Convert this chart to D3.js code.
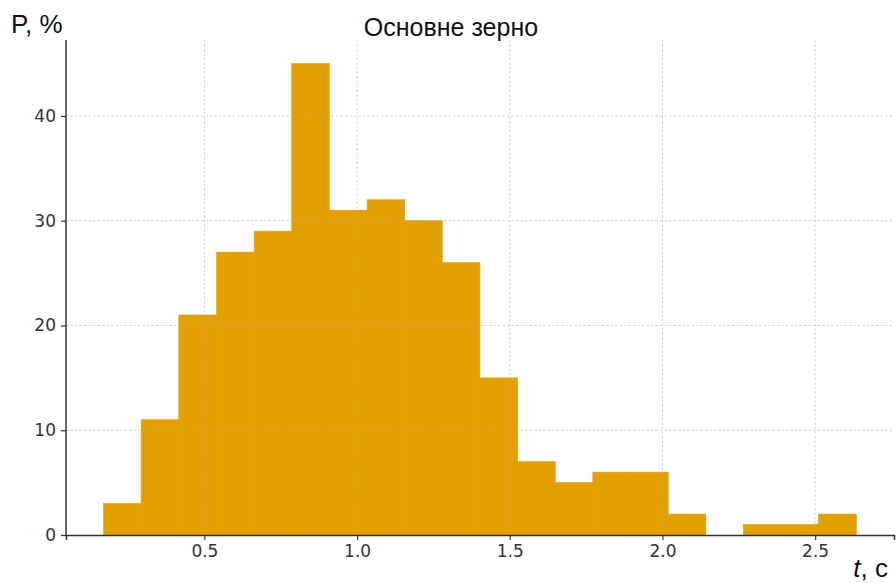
<!DOCTYPE html>
<html><head><meta charset="utf-8">
<script src="https://cdn.jsdelivr.net/npm/d3@7"></script>
<style>body{margin:0;background:#fff}svg{display:block}</style>
</head><body>
<script>
const binEdges = [0.170, 0.293, 0.416, 0.540, 0.663, 0.786, 0.909, 1.033, 1.156, 1.279, 1.402, 1.526, 1.649, 1.772, 1.895, 2.019, 2.142, 2.265, 2.388, 2.511, 2.635];
const counts = [3, 11, 21, 27, 29, 45, 31, 32, 30, 26, 15, 7, 5, 6, 6, 2, 0, 1, 1, 2];
const xTicks = [0.5, 1.0, 1.5, 2.0, 2.5];
const yTicks = [0, 10, 20, 30, 40];
const title = "Основне зерно";

const W = 896, H = 583;
const m = {left: 66, right: 2, top: 40, bottom: 48};
const svg = d3.select("body").append("svg").attr("width", W).attr("height", H);

const span = binEdges[binEdges.length-1] - binEdges[0];
const x = d3.scaleLinear()
  .domain([binEdges[0] - 0.05*span, binEdges[binEdges.length-1] + 0.05*span])
  .range([m.left, W - m.right]);
const y = d3.scaleLinear().domain([0, d3.max(counts)*1.05]).range([H - m.bottom, m.top]);

const bins = counts.map((c, i) => ({x0: binEdges[i], x1: binEdges[i+1], c}));

svg.append("g").selectAll("rect").data(bins).join("rect")
  .attr("x", d => x(d.x0)).attr("width", d => x(d.x1) - x(d.x0))
  .attr("y", d => y(d.c)).attr("height", d => y(0) - y(d.c))
  .attr("fill", "#E3A000").attr("stroke", "#E3A000").attr("stroke-width", 0.6);

// grid
const grid = svg.append("g").attr("stroke", "#b0b0b0").attr("stroke-width", 0.8)
  .attr("stroke-dasharray", "2.5,2").attr("opacity", 0.7);
grid.selectAll(".gx").data(xTicks).join("line")
  .attr("x1", d => x(d)).attr("x2", d => x(d)).attr("y1", m.top).attr("y2", H - m.bottom);
grid.selectAll(".gy").data(yTicks.filter(d => d > 0)).join("line")
  .attr("y1", d => y(d)).attr("y2", d => y(d)).attr("x1", m.left).attr("x2", W - m.right);

const font = "'DejaVu Sans', sans-serif";
const xAxis = svg.append("g").attr("transform", `translate(0,${H - m.bottom})`)
  .call(d3.axisBottom(x).tickValues(xTicks).tickFormat(d3.format(".1f")).tickSizeOuter(0).tickSize(5).tickPadding(5));
const yAxis = svg.append("g").attr("transform", `translate(${m.left},0)`)
  .call(d3.axisLeft(y).tickValues(yTicks).tickSizeOuter(0).tickSize(5).tickPadding(5));
[xAxis, yAxis].forEach(a => {
  a.select(".domain").attr("stroke", "#333").attr("stroke-width", 1.5);
  a.selectAll(".tick line").attr("stroke", "#333").attr("stroke-width", 1.2);
  a.selectAll("text").attr("fill", "#333").style("font-family", font).style("font-size", "17px");
});
yAxis.select(".domain").attr("d", `M0,${y(0)}V${m.top}`);

svg.append("text").attr("x", 451).attr("y", 36).attr("text-anchor", "middle")
  .style("font-family", "'Liberation Sans', Arial, sans-serif").style("font-size", "25px").attr("fill", "#111").text(title);
svg.append("text").attr("x", 11).attr("y", 33)
  .style("font-family", "'Liberation Sans', Arial, sans-serif").style("font-size", "26px").attr("fill", "#111").text("P, %");
const tl = svg.append("text").attr("x", 888).attr("y", 577).attr("text-anchor", "end")
  .style("font-family", "'Liberation Sans', Arial, sans-serif").style("font-size", "26px").attr("fill", "#111");
tl.append("tspan").style("font-style", "italic").text("t");
tl.append("tspan").text(", с");
</script>
</body></html>
